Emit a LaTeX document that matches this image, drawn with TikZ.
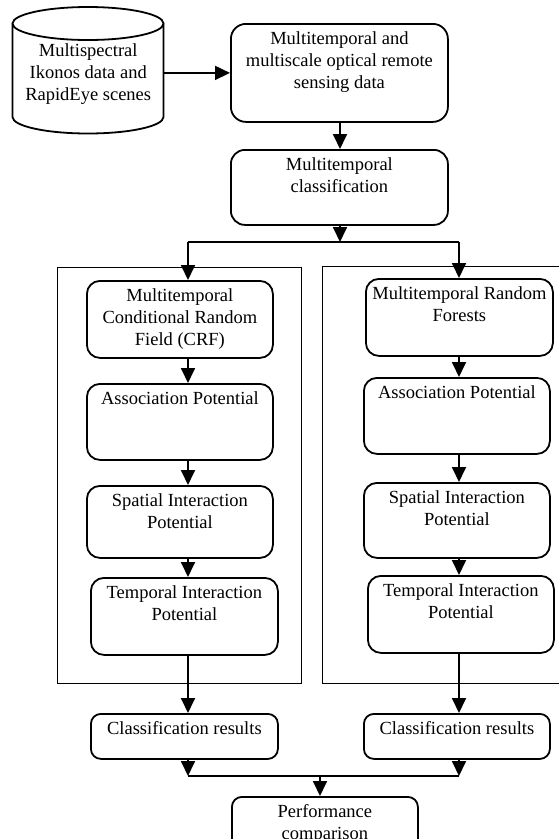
\documentclass[tikz,border=0pt]{standalone}
\usepackage{fontspec}
\setmainfont{Liberation Serif}
\usetikzlibrary{arrows.meta}
% name, x1, y1, x2, y2, corner radius, text
\newcommand\mkbox[7]{\node[box,rounded corners=#6,anchor=north west] (#1) at (#2,#3)
  {\parbox[c][\dimexpr #5pt-#3pt\relax][t]{\dimexpr #4pt-#2pt\relax}{\centering\rule{0pt}{20.5pt}#7\par}};}
\begin{document}
\begin{tikzpicture}[x=1pt,y=-1pt,
  box/.style={draw, line width=1.8pt, inner sep=0pt, font=\fontsize{18.5}{22}\selectfont},
  frame/.style={draw, line width=1.3pt, inner sep=0pt, anchor=north west},
  conn/.style={line width=1.8pt},
  arr/.style={line width=1.8pt, -{Triangle[length=15pt,width=14pt]}},
  cylst/.style={line width=1.8pt}]
\useasboundingbox (0,0) rectangle (559,839);
\clip (0,0) rectangle (559,839);
\fill[white] (0,0) rectangle (559,839);
% frames
\node[frame, minimum width=244pt, minimum height=416pt] (frameL) at (57,267) {};
\node[frame, minimum width=250pt, minimum height=417pt] (frameR) at (322,266) {};
% cylinder
\draw[cylst] (88,23.5) ellipse [x radius=75.5pt, y radius=16.5pt];
\draw[cylst] (12.5,23.5) -- (12.5,117) arc[start angle=180,end angle=360,x radius=75.5pt,y radius=16.5pt] -- (163.5,23.5);
\node[inner sep=0pt, font=\fontsize{18.5}{22}\selectfont, anchor=north west] (cyl) at (12.5,7)
  {\parbox[c][127pt][t]{151pt}{\centering\rule{0pt}{49pt}Multispectral\\Ikonos data and\\RapidEye scenes\par}};
% boxes
\mkbox{b1}{230}{23}{447}{121}{15pt}{Multitemporal and\\multiscale optical remote\\sensing data}
\mkbox{b2}{230}{149}{447}{224}{14pt}{Multitemporal\\classification}
\mkbox{crf}{86}{280}{272}{357}{13pt}{Multitemporal\\Conditional Random\\Field (CRF)}
\mkbox{assocL}{86}{383}{272}{459}{13pt}{Association Potential}
\mkbox{spatL}{86}{485}{272}{557}{13pt}{Spatial Interaction\\Potential}
\mkbox{tempL}{90}{577}{277}{654}{13pt}{Temporal Interaction\\Potential}
\mkbox{resL}{90}{713}{277}{758}{10pt}{Classification results}
\mkbox{rf}{365}{278}{552}{355}{13pt}{Multitemporal Random\\Forests}
\mkbox{assocR}{363}{377}{549}{453}{13pt}{Association Potential}
\mkbox{spatR}{363}{482}{549}{557}{13pt}{Spatial Interaction\\Potential}
\mkbox{tempR}{367}{575}{553}{652}{13pt}{Temporal Interaction\\Potential}
\mkbox{resR}{363}{713}{549}{758}{10pt}{Classification results}
\mkbox{perf}{231}{796}{417}{858}{10pt}{Performance\\comparison}
% helper coordinates
\coordinate (jt) at (340,242);
\coordinate (jtL) at (188,242);
\coordinate (jtR) at (459,242);
\coordinate (jb) at (320,776);
\coordinate (jbL) at (188,776);
\coordinate (jbR) at (459,776);
\coordinate (colL) at (188,0);
\coordinate (colR) at (459,0);
% connectors
\draw[arr] (cyl.east |- b1.west) -- (b1.west);
\draw[arr] (b1.south -| jt) -- (b2.north -| jt);
\draw[arr] (b2.south -| jt) -- (jt);
\draw[conn] (jtL) -- (jtR);
\draw[arr] (jtL) -- (crf.north -| jtL);
\draw[arr] (jtR) -- (rf.north -| jtR);
\draw[arr] (crf.south -| colL) -- (assocL.north -| colL);
\draw[arr] (assocL.south -| colL) -- (spatL.north -| colL);
\draw[arr] (spatL.south -| colL) -- (tempL.north -| colL);
\draw[arr] (tempL.south -| colL) -- (resL.north -| colL);
\draw[arr] (resL.south -| colL) -- (jbL);
\draw[arr] (rf.south -| colR) -- (assocR.north -| colR);
\draw[arr] (assocR.south -| colR) -- (spatR.north -| colR);
\draw[arr] (spatR.south -| colR) -- (tempR.north -| colR);
\draw[arr] (tempR.south -| colR) -- (resR.north -| colR);
\draw[arr] (resR.south -| colR) -- (jbR);
\draw[conn] (jbL) -- (jbR);
\draw[arr] (jb) -- (perf.north -| jb);
\end{tikzpicture}
\end{document}
